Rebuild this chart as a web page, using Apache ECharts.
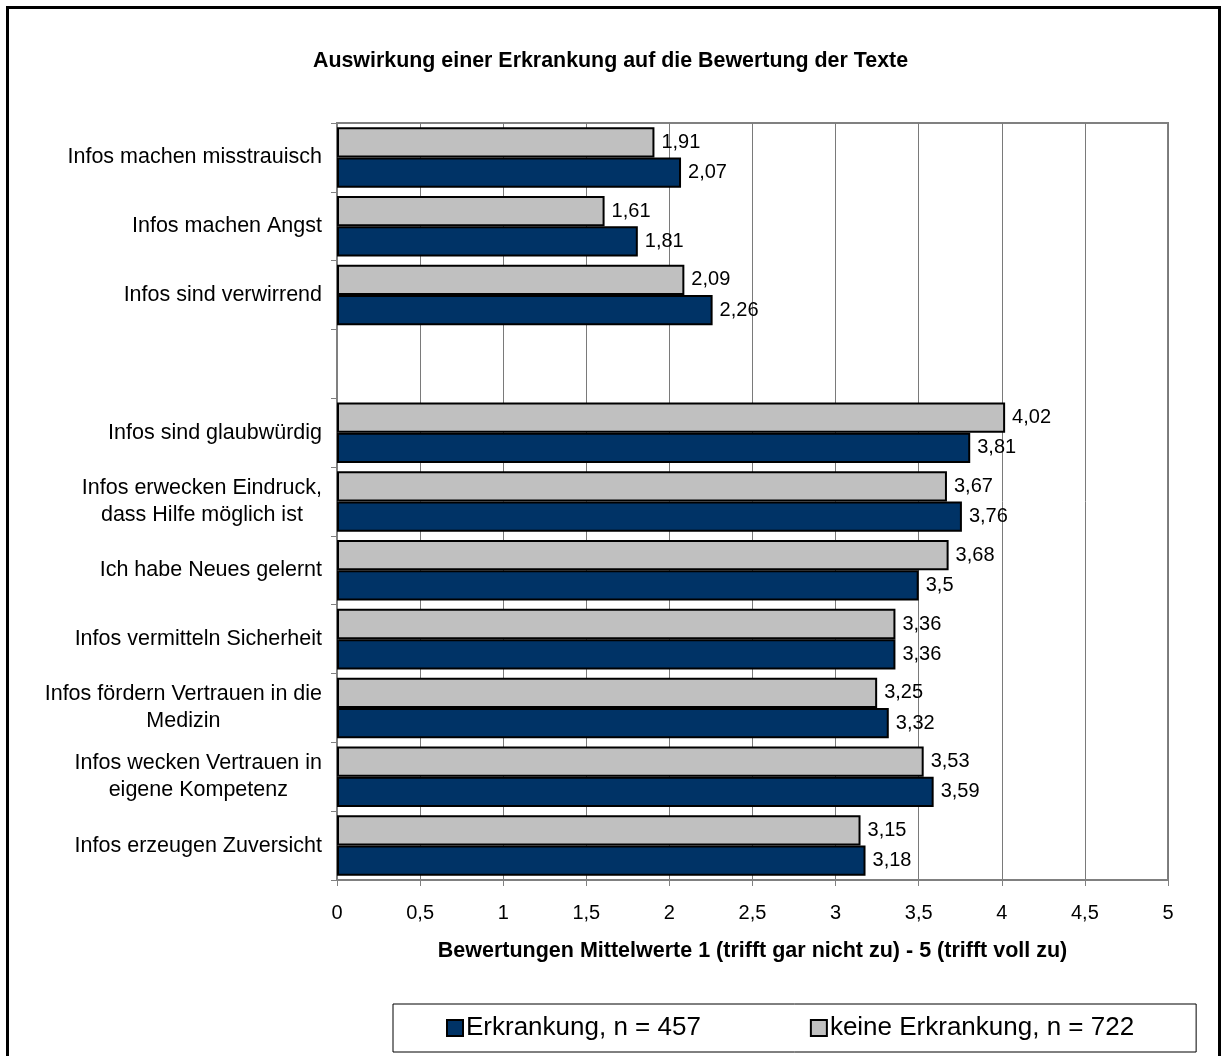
<!DOCTYPE html>
<html>
<head>
<meta charset="utf-8">
<script src="https://cdn.jsdelivr.net/npm/echarts@6/dist/echarts.min.js"></script>
<style>
  html, body { margin: 0; padding: 0; background: #fff; }
  #chart { width: 1221px; height: 1056px; }
</style>
</head>
<body>
<div id="chart"></div>
<script>
// Statements rated (an empty row separates the negative from the positive items)
const categories = [
  'Infos machen misstrauisch',
  'Infos machen Angst',
  'Infos sind verwirrend',
  '',
  'Infos sind glaubwürdig',
  'Infos erwecken Eindruck,\ndass Hilfe möglich ist',
  'Ich habe Neues gelernt',
  'Infos vermitteln Sicherheit',
  'Infos fördern Vertrauen in die\nMedizin',
  'Infos wecken Vertrauen in\neigene Kompetenz',
  'Infos erzeugen Zuversicht'
];

// Mean ratings, 1 (trifft gar nicht zu) - 5 (trifft voll zu)
const erkrankung = [2.07, 1.81, 2.26, '-', 3.81, 3.76, 3.5, 3.36, 3.32, 3.59, 3.18];
const keineErkrankung = [1.91, 1.61, 2.09, '-', 4.02, 3.67, 3.68, 3.36, 3.25, 3.53, 3.15];

const seriesNames = ['Erkrankung, n = 457', 'keine Erkrankung, n = 722'];
const xTicks = { min: 0, max: 5, interval: 0.5 };

const FONT = "'Liberation Sans', Arial, sans-serif";
const comma = v => String(v).replace('.', ',');

const chart = echarts.init(document.getElementById('chart'), null, { renderer: 'canvas' });

const labelStyle = {
  show: true,
  position: 'right',
  distance: 7,
  color: '#000',
  fontFamily: FONT,
  fontSize: 20,
  formatter: p => comma(p.value)
};

chart.setOption({
  animation: false,
  backgroundColor: '#fff',
  title: {
    text: 'Auswirkung einer Erkrankung auf die Bewertung der Texte',
    left: 'center',
    top: 46,
    textStyle: { fontFamily: FONT, fontSize: 21.4, fontWeight: 'bold', color: '#000' }
  },
  graphic: [{
    type: 'rect',
    left: 5, top: 5,
    shape: { width: 1212, height: 1060 },
    style: { fill: 'none', stroke: '#000', lineWidth: 3 },
    silent: true
  }],
  legend: {
    data: seriesNames,
    icon: 'rect',
    left: 393,
    top: 1004,
    padding: [11, 62, 11, 53],
    borderColor: '#000',
    borderWidth: 1,
    itemWidth: 16,
    itemHeight: 16,
    itemGap: 109,
    textStyle: { fontFamily: FONT, fontSize: 26, color: '#000', padding: [0, 0, 0, -2] }
  },
  grid: {
    left: 337,
    right: 53,
    top: 123,
    bottom: 176,
    show: true,
    borderColor: '#808080',
    borderWidth: 2,
    containLabel: false
  },
  xAxis: {
    type: 'value',
    min: xTicks.min,
    max: xTicks.max,
    interval: xTicks.interval,
    name: 'Bewertungen Mittelwerte 1 (trifft gar nicht zu) - 5 (trifft voll zu)',
    nameLocation: 'middle',
    nameGap: 60,
    nameTextStyle: { fontFamily: FONT, fontSize: 21.5, fontWeight: 'bold', color: '#000' },
    axisLine: { show: true, lineStyle: { color: '#808080', width: 2 } },
    axisTick: { show: true, length: 6, lineStyle: { color: '#808080', width: 1 } },
    axisLabel: { margin: 23, fontFamily: FONT, fontSize: 20, color: '#000', formatter: comma },
    splitLine: { show: true, lineStyle: { color: '#7a7a7a', width: 1 } }
  },
  yAxis: {
    type: 'category',
    data: categories,
    inverse: true,
    axisLine: { show: true, lineStyle: { color: '#808080', width: 2 } },
    axisTick: { show: true, length: 6, interval: 0, lineStyle: { color: '#808080', width: 1 } },
    splitLine: { show: false },
    axisLabel: {
      interval: 0,
      margin: 15,
      fontFamily: FONT,
      fontSize: 21.5,
      color: '#000',
      lineHeight: 27,
      formatter: v => v.split('\n').map(s => '{c|' + s + '}').join('\n'),
      rich: { c: { align: 'center', fontFamily: FONT, fontSize: 21.5, color: '#000', lineHeight: 27 } }
    }
  },
  series: [
    {
      name: seriesNames[1],
      type: 'bar',
      data: keineErkrankung,
      barGap: '0%',
      barCategoryGap: '12%',
      itemStyle: { color: '#c0c0c0', borderColor: '#000', borderWidth: 2 },
      label: labelStyle
    },
    {
      name: seriesNames[0],
      type: 'bar',
      data: erkrankung,
      barGap: '0%',
      barCategoryGap: '12%',
      itemStyle: { color: '#003366', borderColor: '#000', borderWidth: 2 },
      label: labelStyle
    }
  ]
});
</script>
</body>
</html>
